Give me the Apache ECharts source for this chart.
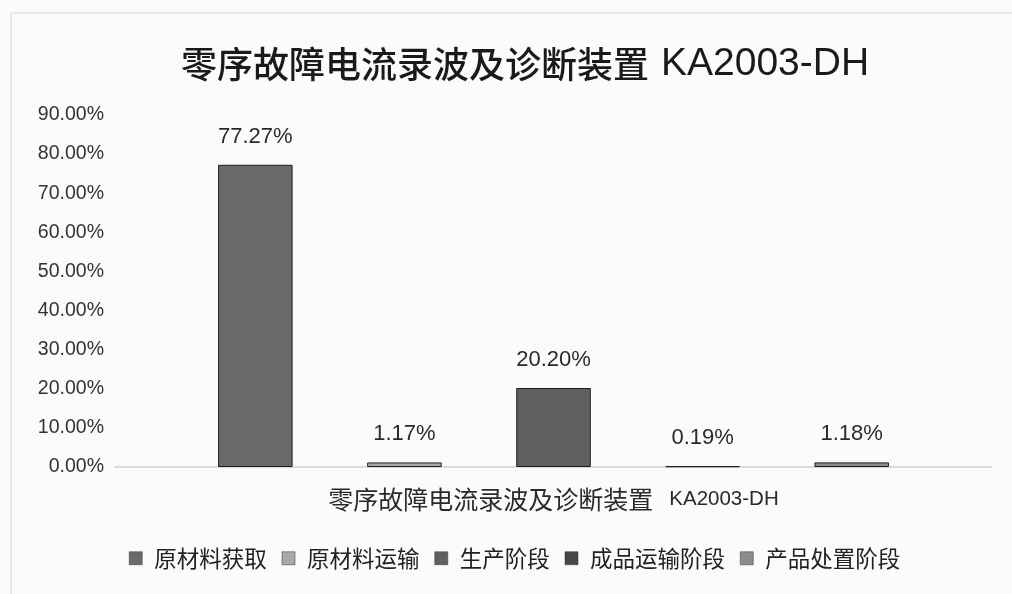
<!DOCTYPE html>
<html>
<head>
<meta charset="utf-8">
<script src="https://cdn.jsdelivr.net/npm/echarts@6/dist/echarts.min.js"></script>
<style>
  html, body { margin: 0; padding: 0; background: #fbfbfb; }
  #chart { width: 1012px; height: 594px; }
</style>
</head>
<body>
<div id="chart"></div>
<script>
// ============================================================
// 数据
// ============================================================
var TITLE_CN = '零序故障电流录波及诊断装置';
var TITLE_MODEL = 'KA2003-DH';
var CATEGORIES = ['零序故障电流录波及诊断装置 KA2003-DH'];
var STAGE_NAMES = ['原材料获取', '原材料运输', '生产阶段', '成品运输阶段', '产品处置阶段'];
var STAGE_VALUES = [77.27, 1.17, 20.20, 0.19, 1.18];
var Y_TICKS = [0, 10, 20, 30, 40, 50, 60, 70, 80, 90];

var STAGE_COLORS = ['#6a6a6a', '#a9a9a9', '#5f5f5f', '#474747', '#8c8c8c'];
var FONT = '"Liberation Sans", "Noto Sans CJK SC", sans-serif';
var CJK_FONT = '"Noto Sans CJK SC", sans-serif';

// ============================================================
// 渲染
// ============================================================
var chart = echarts.init(document.getElementById('chart'));

var series = STAGE_NAMES.map(function(name, index) {
  return {
    name: name,
    type: 'bar',
    data: [STAGE_VALUES[index]],
    barGap: '100%',
    barCategoryGap: '23.5%',
    itemStyle: {
      color: STAGE_COLORS[index],
      borderColor: '#1e1e1e',
      borderWidth: 1,
    },
    label: {
      show: true,
      position: 'top',
      distance: 17,
      fontFamily: FONT,
      fontSize: 22,
      color: '#2a2a2a',
      formatter: function(p) { return p.value.toFixed(2) + '%'; },
    },
  };
});

// 中文与型号分开设字号，贴近原图排版
function splitLabel(text) {
  var idx = text.indexOf(' ');
  if (idx < 0) return '{c|' + text + '}';
  return '{c|' + text.slice(0, idx) + '}{l|' + text.slice(idx + 1) + '}';
}

chart.setOption({
  backgroundColor: '#fbfbfb',
  animation: false,
  title: {
    text: '{c|' + TITLE_CN + '}{l|' + TITLE_MODEL + '}',
    left: 176,
    top: 40,
    textStyle: {
      fontWeight: 'normal',
      rich: {
        c: { fontFamily: CJK_FONT, fontSize: 36, fontWeight: 500, color: '#1a1a1a' },
        l: { fontFamily: FONT, fontSize: 39, fontWeight: 'normal', color: '#1a1a1a', padding: [0, 0, 0, 12] },
      },
    },
  },
  legend: {
    data: STAGE_NAMES,
    left: 124,
    top: 542,
    icon: 'rect',
    itemWidth: 13,
    itemHeight: 13,
    itemGap: 15,
    itemStyle: { borderColor: '#333', borderWidth: 0.5 },
    textStyle: {
      fontFamily: CJK_FONT,
      fontSize: 22.5,
      color: '#222',
      padding: [0, 0, 0, 7],
    },
  },
  grid: {
    left: 115,
    right: 20,
    top: 115,
    bottom: 127,
    containLabel: false,
  },
  xAxis: {
    type: 'category',
    data: CATEGORIES,
    axisLine: { lineStyle: { color: '#d0d0d0', width: 1.5 } },
    axisTick: { show: false },
    axisLabel: {
      margin: 20,
      formatter: splitLabel,
      rich: {
        c: { fontFamily: CJK_FONT, fontSize: 25, color: '#2a2a2a' },
        l: { fontFamily: FONT, fontSize: 20.5, color: '#2a2a2a', padding: [0, 0, 0, 16] },
      },
    },
  },
  yAxis: {
    type: 'value',
    min: Y_TICKS[0],
    max: Y_TICKS[Y_TICKS.length - 1],
    interval: Y_TICKS[1] - Y_TICKS[0],
    axisLine: { show: false },
    axisTick: { show: false },
    splitLine: { show: false },
    axisLabel: {
      fontFamily: FONT,
      fontSize: 19.5,
      color: '#333',
      margin: 11,
      formatter: function(v) { return v.toFixed(2) + '%'; },
    },
  },
  // 扫描件的外框线
  graphic: [{
    type: 'rect',
    shape: { x: 11, y: 13, width: 1010, height: 600 },
    style: { fill: 'none', stroke: '#d8d8d8', lineWidth: 1 },
    silent: true,
  }],
  series: series,
});
</script>
</body>
</html>
